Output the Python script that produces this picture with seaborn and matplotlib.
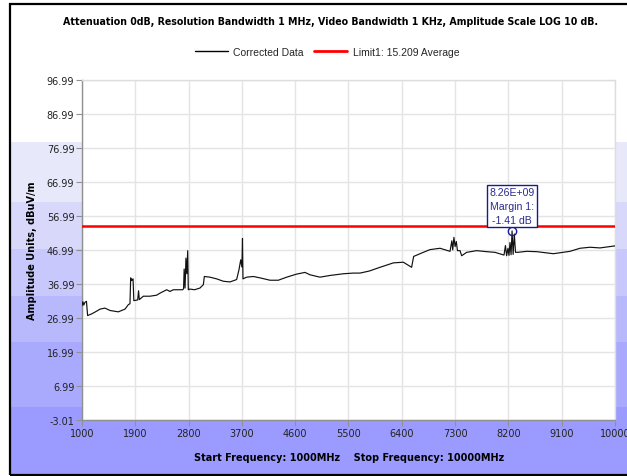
import matplotlib
matplotlib.use("Agg")
import matplotlib.pyplot as plt
import seaborn as sns
import numpy as np
from matplotlib.patches import Rectangle
from matplotlib.lines import Line2D

# ---- data ----
freq_mhz = [1000, 1015, 1030, 1050, 1075, 1095, 1163, 1247, 1304, 1388, 1473, 1613,
            1726, 1782, 1810, 1822, 1840, 1862, 1875, 1940, 1955, 1968, 2036, 2148,
            2261, 2317, 2430, 2486, 2542, 2700, 2715, 2725, 2740, 2755, 2770, 2785,
            2795, 2823, 2900, 2992, 3049, 3066, 3161, 3274, 3386, 3499, 3611, 3651,
            3680, 3700, 3710, 3718, 3780, 3893, 4005, 4174, 4315, 4456, 4624, 4765,
            4850, 5018, 5187, 5412, 5581, 5694, 5850, 6032, 6257, 6426, 6566, 6600,
            6763, 6876, 7045, 7214, 7245, 7260, 7280, 7300, 7320, 7340, 7383, 7411,
            7495, 7664, 7833, 7974, 8126, 8150, 8170, 8193, 8210, 8227, 8245, 8262,
            8280, 8300, 8320, 8357, 8509, 8678, 8959, 9240, 9409, 9578, 9747, 10000]
amplitude = [30.6, 31.8, 30.8, 31.6, 31.9, 27.7, 28.2, 29.0, 29.6, 29.9, 29.2, 28.8,
             29.6, 30.9, 31.2, 38.8, 38.0, 38.5, 32.1, 32.3, 35.0, 32.4, 33.4, 33.4,
             33.7, 34.3, 35.3, 34.8, 35.3, 35.3, 35.6, 41.4, 35.8, 44.6, 40.0, 46.8,
             35.3, 35.5, 35.3, 35.8, 36.8, 39.2, 39.0, 38.5, 37.8, 37.6, 38.3, 41.2,
             44.1, 42.0, 50.4, 38.5, 39.0, 39.2, 38.8, 38.1, 38.1, 39.0, 39.9, 40.4,
             39.7, 39.0, 39.5, 40.0, 40.2, 40.2, 40.8, 41.9, 43.2, 43.4, 41.9, 45.1,
             46.3, 47.1, 47.5, 46.6, 49.7, 47.0, 50.7, 48.0, 49.5, 46.8, 46.8, 45.3,
             46.3, 46.8, 46.5, 46.3, 45.5, 48.3, 45.3, 47.5, 45.4, 49.2, 45.6, 52.6,
             45.7, 51.7, 46.3, 46.3, 46.6, 46.5, 45.9, 46.6, 47.5, 47.8, 47.6, 48.2]
limit_value = 54.0
marker_freq = 8262
marker_value = 52.6
marker_text = ["8.26E+09", "Margin 1:", "-1.41 dB"]
x_ticks = [1000, 1900, 2800, 3700, 4600, 5500, 6400, 7300, 8200, 9100, 10000]
y_ticks = [-3.01, 6.99, 16.99, 26.99, 36.99, 46.99, 56.99, 66.99, 76.99, 86.99, 96.99]

title = "Attenuation 0dB, Resolution Bandwidth 1 MHz, Video Bandwidth 1 KHz, Amplitude Scale LOG 10 dB."
xlabel = "Start Frequency: 1000MHz    Stop Frequency: 10000MHz"
ylabel = "Amplitude Units, dBuV/m"
legend_labels = ["Corrected Data", "Limit1: 15.209 Average"]

# ---- figure ----
sns.set_theme(style="white")
plt.rcParams['font.family'] = ['DejaVu Sans']

W, H = 627, 477
fig = plt.figure(figsize=(W / 100, H / 100), dpi=100)
fig.patch.set_facecolor("white")

def fy(py):
    return 1 - py / H

# background bands (pixel rows)
bands = [(5, 143, "#ffffff"), (143, 203, "#e8e8fb"), (203, 250, "#d8d8fb"),
         (250, 297, "#c8c8fc"), (297, 343, "#b8b8fd"), (343, 408, "#a9a9fe"),
         (408, 476, "#9b9bff")]
for top, bot, c in bands:
    fig.add_artist(Rectangle((10 / W, fy(bot)), 1.2, (bot - top) / H,
                             transform=fig.transFigure, facecolor=c,
                             edgecolor="none", zorder=-10))
fig.add_artist(Rectangle((10 / W, fy(476)), 1.2, (476 - 5) / H,
                         transform=fig.transFigure, facecolor="none",
                         edgecolor="black", lw=1.6, zorder=20))

ax = fig.add_axes([82 / W, fy(421), (615 - 82) / W, (421 - 81) / H])
ax.set_facecolor("white")

sns.lineplot(x=freq_mhz, y=amplitude, ax=ax, color="#111111", lw=0.85,
             estimator=None, zorder=3)
ax.axhline(limit_value, color="#ff0000", lw=1.8, zorder=4)

ax.set_xlim(1000, 10000)
ax.set_ylim(-3.01, 96.99)
ax.set_xticks(x_ticks)
ax.set_xticklabels([str(v) for v in x_ticks])
ax.set_yticks(y_ticks)
ax.set_yticklabels([f"{v:.2f}" for v in y_ticks])
ax.grid(True, color="#e4e4e4", lw=1.0, zorder=0)
ax.set_axisbelow(True)
for s in ["top", "right"]:
    ax.spines[s].set_color("#dddddd")
    ax.spines[s].set_linewidth(1.0)
for s in ["left", "bottom"]:
    ax.spines[s].set_color("#909090")
    ax.spines[s].set_linewidth(1.0)
ax.tick_params(axis="both", which="major", length=4, width=0.8, color="#909090",
               labelsize=7, labelcolor="#222222", pad=1.5, direction="out",
               bottom=True, left=True)
ax.set_xlabel("")
ax.set_ylabel("")

# marker + annotation
ax.plot([marker_freq], [marker_value], marker="o", ms=6, mfc="none",
        mec="#1a1a9a", mew=1.0, zorder=6)
ax.annotate("\n".join(marker_text), xy=(marker_freq, marker_value),
            xytext=(0, 4.5), textcoords="offset points", ha="center", va="bottom",
            fontsize=7.6, color="#2a2a90", family="Liberation Sans",
            linespacing=1.45,
            bbox=dict(boxstyle="square,pad=0.22", fc="white", ec="#1a1a8a", lw=1.0),
            zorder=7)

# title, labels
fig.text(331 / W, fy(22), title, ha="center", va="center", fontsize=6.85,
         fontweight="bold", color="black")
fig.text(349 / W, fy(458), xlabel, ha="center", va="center", fontsize=7.0,
         fontweight="bold", color="black")
fig.text(32 / W, fy(251), ylabel, ha="center", va="center", rotation=90,
         fontsize=7.0, fontweight="bold", color="black")

handles = [Line2D([], [], color="black", lw=1.0), Line2D([], [], color="#ff0000", lw=2.0)]
fig.legend(handles, legend_labels, loc="center", bbox_to_anchor=(327 / W, fy(53)),
           ncol=2, frameon=False, prop={"family": "Liberation Sans", "size": 7.5},
           handlelength=3.2, handletextpad=0.5, columnspacing=1.0)

fig.savefig("out.png", dpi=100)
